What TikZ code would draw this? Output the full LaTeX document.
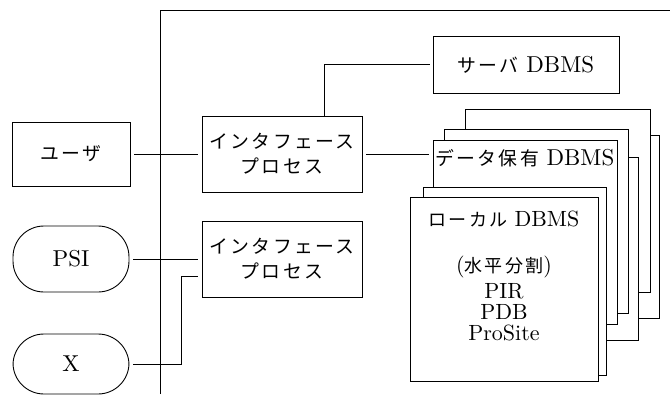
\documentclass[tikz,border=0pt]{standalone}
\usepackage{fontspec}
\usepackage{tikz}
\setmainfont{lmroman10-regular.otf}
\newfontfamily\cjk[Scale=0.82,LetterSpace=12]{Noto Sans CJK JP}

\begin{document}
\begin{tikzpicture}[x=1pt, y=-1pt, line width=0.9pt, node distance=105pt,
  font=\fontsize{23}{25}\selectfont,
  box/.style={draw, rectangle, inner sep=0pt},
  jtext/.style={font=\fontsize{23}{25}\selectfont\cjk, align=center},
  pill/.style={draw, rectangle, rounded corners=31pt, minimum width=116pt, inner sep=0pt},
  page/.style={draw, fill=white, inner sep=0pt},
  link/.style={shorten <=4pt, shorten >=4pt}]
  \useasboundingbox (0,0) rectangle (670,394);

  % outer frame
  \draw (160,394) |- (670,10);

  % clients
  \node[box, jtext, minimum width=118pt, minimum height=64pt] (user) at (71,154) {ユーザ};
  \node[pill, minimum height=66pt, below of=user] (psi) {PSI};
  \node[pill, minimum height=60pt, below of=psi] (xterm) {X};

  % interface processes
  \node[box, jtext, minimum width=160pt, minimum height=76pt] (if1) at (282,154) {インタフェース\\プロセス};
  \node[box, jtext, minimum width=160pt, minimum height=76pt, below of=if1] (if2) {インタフェース\\プロセス};

  \node[box, minimum width=186pt, minimum height=57pt] (server) at (526,64.5) {{\cjk サーバ} DBMS};

  % stacked DBMS pages, back to front
  \draw[page] (475,135) rectangle (659,318);
  \draw[page] (465,109) rectangle (650,292);
  \draw[page] (455,157) rectangle (638,340);
  \draw[page] (444,129) rectangle (628,313);
  \node[page, minimum width=184pt, minimum height=184pt,
    label={[anchor=north, yshift=-6pt]north:{\cjk データ保有} DBMS}] (data) at (525,232) {};
  \draw[page] (423,187) rectangle (606,375);
  \node[page, minimum width=188pt, minimum height=184pt,
    label={[anchor=north, align=center, yshift=-11pt, font=\fontsize{22}{21}\selectfont]north:{\cjk ローカル} DBMS\\[25pt]({\cjk 水平分割})\\[5pt]PIR\\PDB\\ProSite}] (local) at (504,289) {};

  % connectors
  \draw[link] (user) -- (if1);
  \draw[link] (if1.east) -- (if1.east -| data.west);
  \draw[shorten >=3pt] ([xshift=-38pt]if1.north east) |- (server.west);
  \draw[link] (psi) -- (if2);
  \coordinate (xin) at ([yshift=-17pt]if2.west);
  \draw[link] (xterm.east) -| ([xshift=-20pt]xin) -- (xin);
\end{tikzpicture}
\end{document}
